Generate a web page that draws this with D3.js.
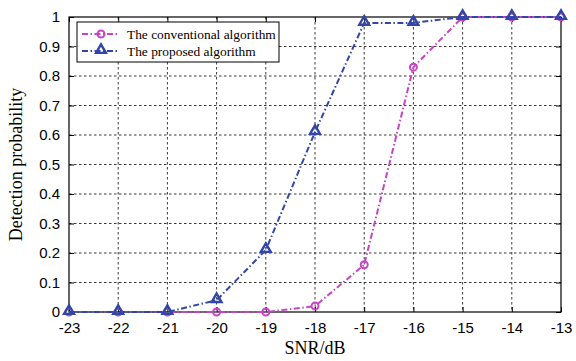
<!DOCTYPE html>
<html>
<head>
<meta charset="utf-8">
<script src="https://cdn.jsdelivr.net/npm/d3@7"></script>
<style>
  body { margin: 0; background: #fff; }
  svg { display: block; }
</style>
</head>
<body>
<svg id="chart" width="576" height="361"></svg>
<script>
// chart data
var snr = [-23, -22, -21, -20, -19, -18, -17, -16, -15, -14, -13];
var conventional = [0, 0, 0, 0, 0, 0.02, 0.16, 0.83, 1, 1, 1];
var proposed = [0, 0, 0, 0.04, 0.21, 0.61, 0.98, 0.98, 1, 1, 1];
var yTicks = [0, 0.1, 0.2, 0.3, 0.4, 0.5, 0.6, 0.7, 0.8, 0.9, 1];
var seriesNames = ["The conventional algorithm", "The proposed algorithm"];

var mLeft = 69, mRight = 561, mTop = 17, mBottom = 312;

var svg = d3.select("#chart");

var x = d3.scaleLinear().domain([-23, -13]).range([mLeft, mRight]);
var y = d3.scaleLinear().domain([0, 1]).range([mBottom, mTop]);

// grid
var grid = svg.append("g");
grid.selectAll(".gx")
  .data(snr.slice(1, -1))
  .enter().append("line")
  .attr("x1", function(d) { return x(d); })
  .attr("x2", function(d) { return x(d); })
  .attr("y1", mTop).attr("y2", mBottom)
  .attr("stroke", "#222").attr("stroke-width", 0.9)
  .attr("stroke-dasharray", "2.5,2.5");
grid.selectAll(".gy")
  .data(yTicks.slice(1, -1))
  .enter().append("line")
  .attr("x1", mLeft).attr("x2", mRight)
  .attr("y1", function(d) { return y(d); })
  .attr("y2", function(d) { return y(d); })
  .attr("stroke", "#222").attr("stroke-width", 0.9)
  .attr("stroke-dasharray", "2.5,2.5");

// axes (ticks pointing inwards)
var xAxis = d3.axisBottom(x).tickValues(snr).tickSizeInner(-5).tickSizeOuter(0).tickPadding(10)
  .tickFormat(function(d) { return String(d); });
var yAxis = d3.axisLeft(y).tickValues(yTicks).tickSizeInner(-5).tickSizeOuter(0).tickPadding(9)
  .tickFormat(function(d) { return String(+d.toFixed(1)); });

var gx = svg.append("g").attr("transform", "translate(0," + mBottom + ")").call(xAxis);
var gy = svg.append("g").attr("transform", "translate(" + mLeft + ",0)").call(yAxis);
var gxTop = svg.append("g").attr("transform", "translate(0," + mTop + ")")
  .call(d3.axisTop(x).tickValues(snr).tickSizeInner(-5).tickSizeOuter(0).tickFormat(""));
var gyRight = svg.append("g").attr("transform", "translate(" + mRight + ",0)")
  .call(d3.axisRight(y).tickValues(yTicks).tickSizeInner(-5).tickSizeOuter(0).tickFormat(""));

[gx, gy, gxTop, gyRight].forEach(function(g) {
  g.select(".domain").remove();
  g.selectAll("line").attr("stroke", "#000").attr("stroke-width", 1);
  g.selectAll("text")
    .attr("fill", "#000")
    .style("font-family", "'Liberation Sans', Arial, sans-serif")
    .style("font-size", "15px");
});

svg.append("rect")
  .attr("x", mLeft).attr("y", mTop)
  .attr("width", mRight - mLeft).attr("height", mBottom - mTop)
  .attr("fill", "none").attr("stroke", "#000").attr("stroke-width", 1.2);

// axis labels
svg.append("text")
  .attr("x", (mLeft + mRight) / 2).attr("y", 354)
  .attr("text-anchor", "middle")
  .style("font-family", "'Liberation Serif', 'Times New Roman', serif")
  .style("font-size", "18px")
  .text("SNR/dB");
svg.append("text")
  .attr("transform", "translate(22," + ((mTop + mBottom) / 2) + ") rotate(-90)")
  .attr("text-anchor", "middle")
  .style("font-family", "'Liberation Serif', 'Times New Roman', serif")
  .style("font-size", "18px")
  .text("Detection probability");

// series
var series = [
  { name: seriesNames[0], values: conventional, color: "#c545c5", marker: "circle" },
  { name: seriesNames[1], values: proposed, color: "#3346a8", marker: "triangle" }
];

var line = d3.line()
  .x(function(d, i) { return x(snr[i]); })
  .y(function(d) { return y(d); });

function drawMarker(g, type, color, cx, cy) {
  if (type === "circle") {
    g.append("circle").attr("cx", cx).attr("cy", cy).attr("r", 3.5)
      .attr("fill", "none").attr("stroke", color).attr("stroke-width", 2);
  } else {
    g.append("path")
      .attr("d", d3.symbol().type(d3.symbolTriangle).size(42)())
      .attr("transform", "translate(" + cx + "," + (cy - 1) + ")")
      .attr("fill", "none").attr("stroke", color).attr("stroke-width", 2.4);
  }
}

series.forEach(function(s) {
  var g = svg.append("g");
  g.append("path")
    .datum(s.values)
    .attr("d", line)
    .attr("fill", "none")
    .attr("stroke", s.color)
    .attr("stroke-width", 2)
    .attr("stroke-dasharray", "6,2.5,1.5,2.5");
  s.values.forEach(function(v, i) {
    drawMarker(g, s.marker, s.color, x(snr[i]), y(v));
  });
});

// legend
var lg = svg.append("g").attr("transform", "translate(77,22)");
lg.append("rect").attr("width", 202).attr("height", 40)
  .attr("fill", "#fff").attr("stroke", "#000").attr("stroke-width", 1);
series.forEach(function(s, i) {
  var ly = 12 + i * 17;
  lg.append("line").attr("x1", 5).attr("x2", 42).attr("y1", ly).attr("y2", ly)
    .attr("stroke", s.color).attr("stroke-width", 2)
    .attr("stroke-dasharray", "6,2.5,1.5,2.5");
  drawMarker(lg, s.marker, s.color, 24, ly);
  lg.append("text").attr("x", 50).attr("y", ly + 4.5)
    .style("font-family", "'Liberation Serif', 'Times New Roman', serif")
    .style("font-size", "13.4px")
    .text(s.name);
});
</script>
</body>
</html>
